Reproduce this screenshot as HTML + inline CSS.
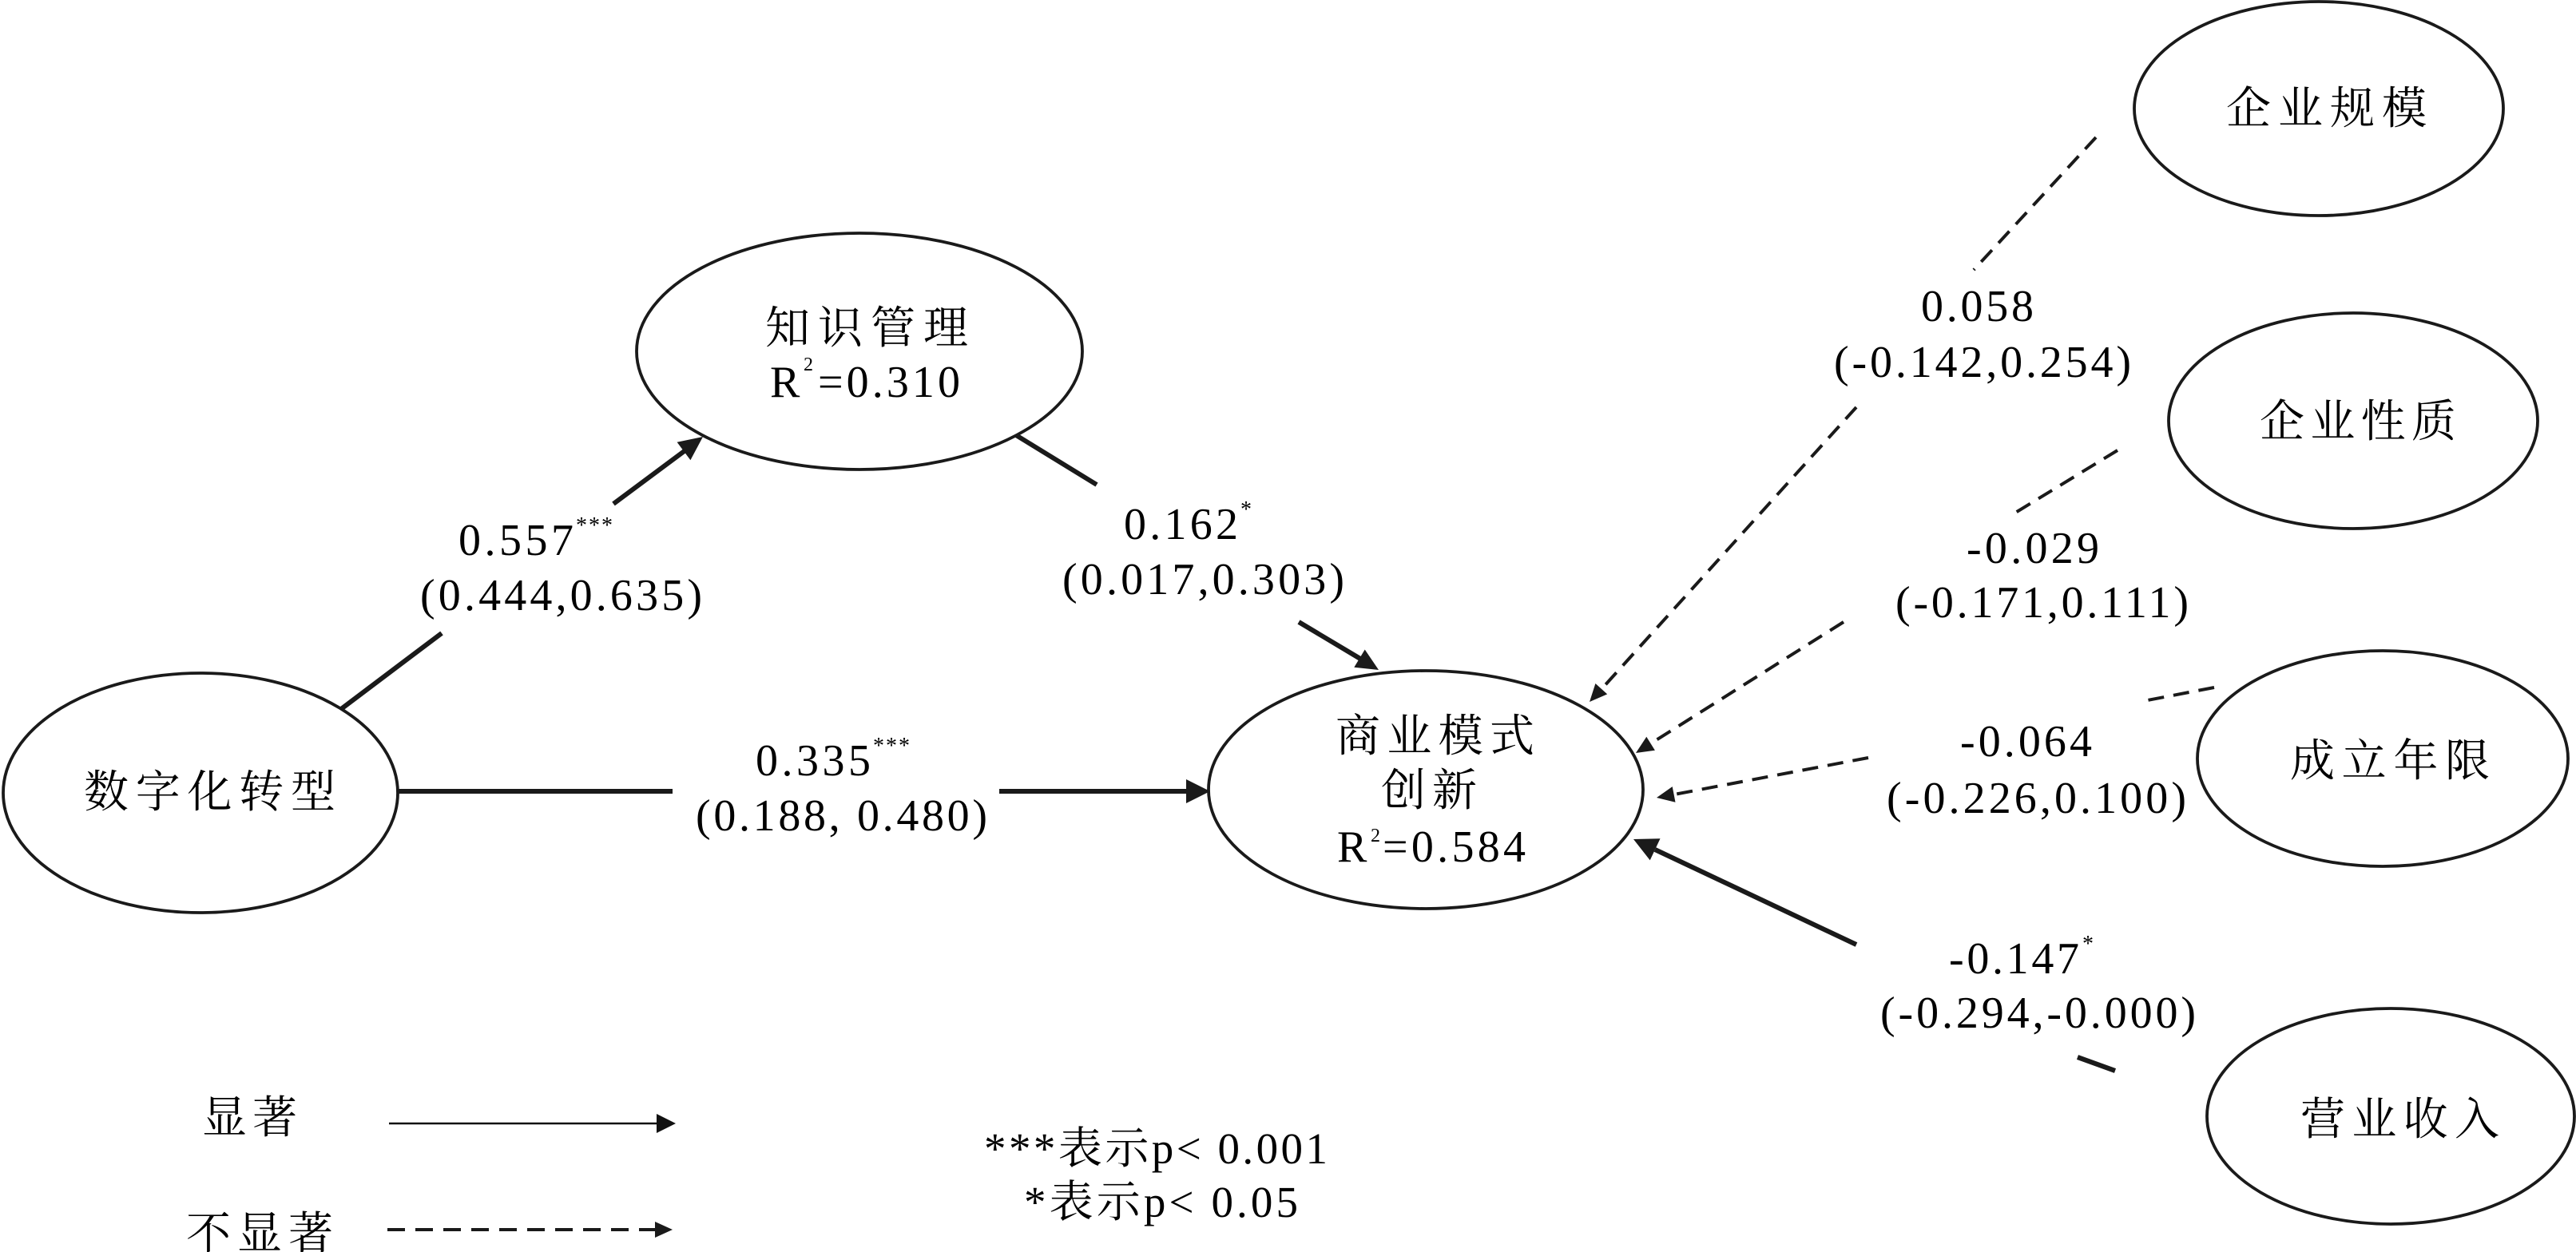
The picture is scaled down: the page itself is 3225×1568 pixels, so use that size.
<!DOCTYPE html>
<html>
<head>
<meta charset="utf-8">
<style>
  html, body { margin: 0; padding: 0; background: #ffffff; }
  svg { display: block; }
  text { font-family: "Liberation Serif", "Noto Serif CJK SC", serif; fill: #000; }
</style>
</head>
<body>
<svg width="3225" height="1568" viewBox="0 0 3225 1568" xmlns="http://www.w3.org/2000/svg">
  <rect x="0" y="0" width="3225" height="1568" fill="#ffffff"/>

  <!-- ===== Connectors (solid, significant) ===== -->
  <g stroke="#1a1a1a" stroke-width="6" fill="none" stroke-linecap="butt">
    <!-- 数字化转型 -> 知识管理 -->
    <line x1="427" y1="888" x2="553" y2="793"/>
    <line x1="768" y1="631" x2="858" y2="564"/>
    <!-- 数字化转型 -> 商业模式创新 -->
    <line x1="499" y1="991" x2="842" y2="991"/>
    <line x1="1251" y1="991" x2="1487" y2="991"/>
    <!-- 知识管理 -> 商业模式创新 -->
    <line x1="1272" y1="545" x2="1373" y2="607"/>
    <line x1="1626" y1="779" x2="1703" y2="825"/>
    <!-- 营业收入 -> 商业模式创新 -->
    <line x1="2648" y1="1341" x2="2601" y2="1324"/>
    <line x1="2324" y1="1183" x2="2072" y2="1064"/>
  </g>
  <g fill="#1a1a1a" stroke="none">
    <polygon points="880,547 864.4,576.2 847.6,553.8"/>
    <polygon points="1515,991 1485,976 1485,1006"/>
    <polygon points="1726,839 1695.3,835.7 1708.7,813.5"/>
    <polygon points="2045,1051 2078.5,1050.2 2065.7,1077.4"/>
  </g>

  <!-- ===== Connectors (dashed, non-significant) ===== -->
  <g stroke="#1a1a1a" stroke-width="4" fill="none" stroke-dasharray="20 12">
    <!-- 企业规模 -->
    <line x1="2624" y1="172" x2="2471" y2="338"/>
    <line x1="2324" y1="510" x2="2005" y2="863"/>
    <!-- 企业性质 -->
    <line x1="2651" y1="564" x2="2520" y2="644"/>
    <line x1="2308" y1="779" x2="2067" y2="931"/>
    <!-- 成立年限 -->
    <line x1="2772" y1="861" x2="2678" y2="879"/>
    <line x1="2339" y1="949" x2="2096" y2="995"/>
  </g>
  <g fill="#1a1a1a" stroke="none">
    <polygon points="1990,879 2012.2,869.4 1997.4,856"/>
    <polygon points="2048,943 2071.9,939.8 2061.3,922.8"/>
    <polygon points="2074,999 2097.5,1004.7 2093.7,985.1"/>
  </g>

  <!-- ===== Nodes ===== -->
  <g fill="#ffffff" stroke="#1a1a1a" stroke-width="3.8">
    <ellipse cx="251" cy="993" rx="247" ry="150"/>
    <ellipse cx="1076" cy="440" rx="279" ry="148"/>
    <ellipse cx="1785" cy="989" rx="272" ry="149"/>
    <ellipse cx="2903" cy="136" rx="231" ry="134"/>
    <ellipse cx="2946" cy="527" rx="231" ry="135"/>
    <ellipse cx="2983" cy="950" rx="232" ry="135"/>
    <ellipse cx="2993" cy="1398" rx="230" ry="135"/>
  </g>

  <!-- Node labels -->
  <g font-size="56">
    <text x="105" y="1011" textLength="315" lengthAdjust="spacing">数字化转型</text>

    <text x="958" y="430" textLength="254" lengthAdjust="spacing">知识管理</text>
    <text x="964" y="497">R</text>
    <text x="1006" y="464" font-size="24">2</text>
    <text x="1024" y="497" textLength="178" lengthAdjust="spacing">=0.310</text>

    <text x="1672" y="941" textLength="249" lengthAdjust="spacing">商业模式</text>
    <text x="1729" y="1009" textLength="120" lengthAdjust="spacing">创新</text>
    <text x="1674" y="1079">R</text>
    <text x="1716" y="1054" font-size="24">2</text>
    <text x="1731" y="1079" textLength="179" lengthAdjust="spacing">=0.584</text>

    <text x="2787" y="155" textLength="251" lengthAdjust="spacing">企业规模</text>
    <text x="2829" y="547" textLength="246" lengthAdjust="spacing">企业性质</text>
    <text x="2867" y="972" textLength="250" lengthAdjust="spacing">成立年限</text>
    <text x="2880" y="1421" textLength="249" lengthAdjust="spacing">营业收入</text>
  </g>

  <!-- Path coefficient labels -->
  <g font-size="56">
    <text x="574" y="695" textLength="144" lengthAdjust="spacing">0.557</text>
    <text x="721" y="667" font-size="28" textLength="46" lengthAdjust="spacing">***</text>
    <text x="526" y="764" textLength="353" lengthAdjust="spacing">(0.444,0.635)</text>

    <text x="946" y="971" textLength="144" lengthAdjust="spacing">0.335</text>
    <text x="1093" y="943" font-size="28" textLength="46" lengthAdjust="spacing">***</text>
    <text x="871" y="1040" textLength="365" lengthAdjust="spacing">(0.188, 0.480)</text>

    <text x="1407" y="675" textLength="143" lengthAdjust="spacing">0.162</text>
    <text x="1553" y="647" font-size="28">*</text>
    <text x="1330" y="744" textLength="353" lengthAdjust="spacing">(0.017,0.303)</text>

    <text x="2405" y="402" textLength="141" lengthAdjust="spacing">0.058</text>
    <text x="2296" y="472" textLength="372" lengthAdjust="spacing">(-0.142,0.254)</text>

    <text x="2462" y="705" textLength="166" lengthAdjust="spacing">-0.029</text>
    <text x="2373" y="773" textLength="367" lengthAdjust="spacing">(-0.171,0.111)</text>

    <text x="2454" y="947" textLength="165" lengthAdjust="spacing">-0.064</text>
    <text x="2362" y="1018" textLength="375" lengthAdjust="spacing">(-0.226,0.100)</text>

    <text x="2440" y="1219" textLength="163" lengthAdjust="spacing">-0.147</text>
    <text x="2607" y="1191" font-size="28">*</text>
    <text x="2354" y="1287" textLength="395" lengthAdjust="spacing">(-0.294,-0.000)</text>
  </g>

  <!-- ===== Legend ===== -->
  <g font-size="56">
    <text x="253" y="1419" textLength="119" lengthAdjust="spacing">显著</text>
    <text x="233" y="1564" textLength="184" lengthAdjust="spacing">不显著</text>
  </g>
  <line x1="487" y1="1407" x2="824" y2="1407" stroke="#111" stroke-width="2.6"/>
  <polygon points="846,1407 822,1395 822,1419" fill="#111"/>
  <line x1="485" y1="1540" x2="821" y2="1540" stroke="#1a1a1a" stroke-width="4" stroke-dasharray="22 13"/>
  <polygon points="842,1540 820,1530 820,1550" fill="#1a1a1a"/>

  <!-- Notes -->
  <g font-size="55">
    <text x="1232" y="1457" textLength="430" lengthAdjust="spacing">***表示p&lt; 0.001</text>
    <text x="1282" y="1524" textLength="343" lengthAdjust="spacing">*表示p&lt; 0.05</text>
  </g>
</svg>
</body>
</html>
